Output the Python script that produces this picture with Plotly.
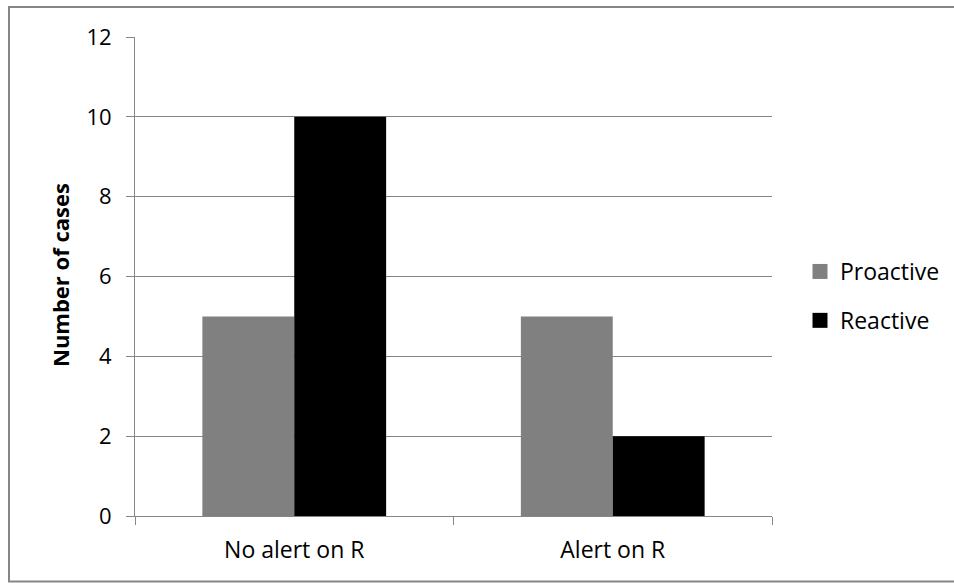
import plotly.graph_objects as go

categories = ["No alert on R", "Alert on R"]
proactive = [5, 5]
reactive = [10, 2]
y_ticks = [0, 2, 4, 6, 8, 10, 12]

W, H = 954, 583
ML, MT = 135, 37
PR, PB = 772, 516
MR, MB = W - PR, H - PB
PW, PH = PR - ML, PB - MT

font_family = "'Open Sans', sans-serif"
GRID = "#868686"


def px_x(px):
    return (px - ML) / PW


def px_y(py):
    return (PB - py) / PH


fig = go.Figure()
fig.add_trace(go.Bar(name="Proactive", x=categories, y=proactive,
                     marker=dict(color="#808080", line=dict(width=0)), showlegend=False))
fig.add_trace(go.Bar(name="Reactive", x=categories, y=reactive,
                     marker=dict(color="#000000", line=dict(width=0)), showlegend=False))
# legend-only entries with larger square swatches
for name, col in [("Proactive", "#808080"), ("Reactive", "#000000")]:
    fig.add_trace(go.Scatter(name=name, x=[None], y=[None], mode="markers",
                             marker=dict(symbol="square", size=15, color=col),
                             legendgroup=name, showlegend=True))

fig.update_layout(
    width=W, height=H,
    margin=dict(l=ML, r=MR, t=MT, b=MB, autoexpand=False),
    paper_bgcolor="white", plot_bgcolor="white",
    barmode="group", bargap=0.423, bargroupgap=0,
    font=dict(family=font_family, size=22, color="#000000"),
    showlegend=True,
    legend=dict(x=px_x(800), y=px_y(296), xanchor="left", yanchor="middle",
                font=dict(size=23, family=font_family), bgcolor="rgba(0,0,0,0)",
                itemsizing="trace", tracegroupgap=16, itemwidth=30),
    xaxis=dict(type="category", showline=True, linecolor=GRID, linewidth=1,
               ticks="outside", ticklen=8, tickcolor=GRID, tickson="boundaries",
               showgrid=False, tickfont=dict(size=23), ticklabelstandoff=13),
    yaxis=dict(range=[0, 12], tickvals=y_ticks, showline=True, linecolor=GRID, linewidth=1,
               ticks="outside", ticklen=8, tickcolor=GRID,
               showgrid=True, gridcolor=GRID, gridwidth=1, zeroline=False,
               tickfont=dict(size=22), ticklabelstandoff=10),
    annotations=[dict(text="<b>Number of cases</b>", xref="paper", yref="paper",
                      x=px_x(60), y=px_y(275), textangle=-90, showarrow=False,
                      xanchor="center", yanchor="middle", font=dict(size=22, family=font_family))],
    shapes=[dict(type="rect", xref="paper", yref="paper",
                 x0=px_x(9), x1=px_x(1000), y0=px_y(7), y1=px_y(581.5),
                 line=dict(color=GRID, width=2), fillcolor="rgba(0,0,0,0)", layer="below")],
)

fig.write_html("out.html", config={"displayModeBar": False},
               post_script="document.body.style.margin='0';document.body.style.overflow='hidden';")
